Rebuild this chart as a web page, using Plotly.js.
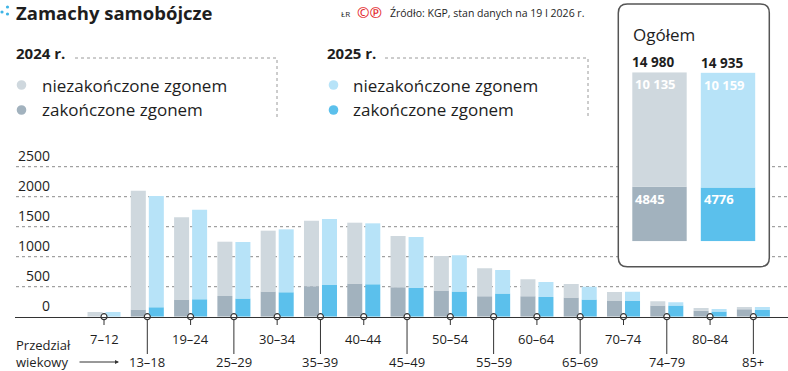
<!DOCTYPE html>
<html>
<head>
<meta charset="utf-8">
<script src="https://cdn.plot.ly/plotly-3.0.1.min.js"></script>
<style>html,body{margin:0;padding:0;background:#fff;}#chart{width:788px;height:371px;}</style>
</head>
<body>
<div id="chart"></div>
<script>
// ---- data ----
const ageGroups = ['7–12','13–18','19–24','25–29','30–34','35–39','40–44','45–49','50–54','55–59','60–64','65–69','70–74','74–79','80–84','85+'];
const fatal2024    = [5, 118, 285, 346, 418, 508, 552, 492, 435, 341, 341, 318, 263, 185, 101, 123];
const nonFatal2024 = [73, 1982, 1371, 904, 1016, 1092, 1015, 853, 577, 465, 282, 227, 148, 71, 44, 38];
const fatal2025    = [4, 157, 290, 302, 407, 529, 541, 479, 418, 385, 329, 285, 263, 185, 85, 113];
const nonFatal2025 = [74, 1854, 1493, 943, 1049, 1099, 1015, 849, 605, 393, 249, 215, 154, 54, 43, 48];
const yTicks = [0, 500, 1000, 1500, 2000, 2500];
const yearLabels = ['2024 r.', '2025 r.'];
const totalFatal = [4845, 4776];
const totalNonFatal = [10135, 10159];
const seriesNames = ['niezakończone zgonem', 'zakończone zgonem'];
const boxTitle = 'Ogółem';

// ---- styling ----
const W = 788, H = 371;
const px = p => p / W;
const py = p => 1 - p / H;
const FONT = 'Open Sans, Noto Sans, DejaVu Sans, sans-serif';
const TXT = '#1e1e1e';
const colLight = ['#cfd8de', '#b7e3f8'];
const colDark  = ['#a2b2be', '#5bc0ec'];
const fmt = n => n >= 10000 ? String(n).replace(/\B(?=(\d{3})+(?!\d))/g, ' ') : String(n);

const barW = 0.347;
const offs = [-0.381, 0.035];
const fatalSets = [fatal2024, fatal2025];
const nonFatalSets = [nonFatal2024, nonFatal2025];

const traces = [];
for (let k = 0; k < 2; k++) {
  traces.push({
    type: 'bar', x: ageGroups, y: fatalSets[k], name: yearLabels[k] + ' ' + seriesNames[1],
    width: barW, offset: offs[k], marker: {color: colDark[k], line: {width: 0}},
    hoverinfo: 'skip', xaxis: 'x', yaxis: 'y'
  });
  traces.push({
    type: 'bar', x: ageGroups, y: nonFatalSets[k], base: fatalSets[k], name: yearLabels[k] + ' ' + seriesNames[0],
    width: barW, offset: offs[k], marker: {color: colLight[k], line: {width: 0}},
    hoverinfo: 'skip', xaxis: 'x', yaxis: 'y'
  });
}
// axis dots
traces.push({
  type: 'scatter', mode: 'markers', x: ageGroups, y: ageGroups.map(() => 0),
  marker: {symbol: 'circle', size: 6, color: '#ffffff', line: {color: '#333', width: 1.2}},
  cliponaxis: false, hoverinfo: 'skip', xaxis: 'x', yaxis: 'y'
});
// totals box bars
const boxW = 0.794;
traces.push({
  type: 'bar', x: yearLabels, y: totalFatal, width: boxW,
  marker: {color: colDark, line: {width: 0}}, hoverinfo: 'skip', xaxis: 'x2', yaxis: 'y2'
});
traces.push({
  type: 'bar', x: yearLabels, y: totalNonFatal, base: totalFatal, width: boxW,
  marker: {color: colLight, line: {width: 0}}, hoverinfo: 'skip', xaxis: 'x2', yaxis: 'y2'
});

const shapes = [];
// dotted gridlines
yTicks.filter(v => v > 0).forEach(v => {
  shapes.push({type: 'line', xref: 'paper', yref: 'y', x0: px(16), x1: 1, y0: v, y1: v,
    line: {color: '#8c8c8c', width: 1, dash: 'dot'}, layer: 'below'});
});
// rounded box
(function () {
  const x0 = px(618.3), x1 = px(769.3), yb = py(266.7), yt = py(4);
  const rx = 9 / W, ry = 9 / H;
  const d = `M ${x0 + rx} ${yt} L ${x1 - rx} ${yt} Q ${x1} ${yt} ${x1} ${yt - ry} L ${x1} ${yb + ry} Q ${x1} ${yb} ${x1 - rx} ${yb} L ${x0 + rx} ${yb} Q ${x0} ${yb} ${x0} ${yb + ry} L ${x0} ${yt - ry} Q ${x0} ${yt} ${x0 + rx} ${yt} Z`;
  shapes.push({type: 'path', xref: 'paper', yref: 'paper', path: d,
    fillcolor: '#ffffff', line: {color: '#555', width: 1.5}, layer: 'below'});
})();
// tick stems below axis
ageGroups.forEach((g, i) => {
  shapes.push({type: 'line', xref: 'x', yref: 'paper', x0: i, x1: i,
    y0: py(317), y1: py(i % 2 === 0 ? 325 : 354), line: {color: '#333', width: 1}, layer: 'below'});
});
// legend headers dotted frames
[[75, 277], [385, 588]].forEach(([a, b]) => {
  shapes.push({type: 'path', xref: 'paper', yref: 'paper',
    path: `M ${px(a)} ${py(58)} L ${px(b)} ${py(58)} L ${px(b)} ${py(118)}`,
    line: {color: '#9a9a9a', width: 1, dash: 'dot'}, layer: 'below'});
});
// legend dots
[[21.5, 0], [333.5, 1]].forEach(([cx, k]) => {
  [[85, colLight[k]], [110, colDark[k]]].forEach(([cy, c]) => {
    shapes.push({type: 'circle', xref: 'paper', yref: 'paper',
      x0: px(cx - 4.8), x1: px(cx + 4.8), y0: py(cy + 4.8), y1: py(cy - 4.8),
      fillcolor: c, line: {width: 0}});
  });
});
// title icon dots
[[2, 12], [7.5, 7], [7.5, 14]].forEach(([cx, cy]) => {
  shapes.push({type: 'circle', xref: 'paper', yref: 'paper',
    x0: px(cx - 1.6), x1: px(cx + 1.6), y0: py(cy + 1.6), y1: py(cy - 1.6),
    fillcolor: '#3fb5e6', line: {width: 0}});
});

const ann = [];
const txt = (text, x, y, size, opts = {}) => Object.assign({
  text, x: px(x), y: py(y), xref: 'paper', yref: 'paper', showarrow: false,
  xanchor: 'left', yanchor: 'middle', font: {family: FONT, size, color: TXT}
}, opts);

ann.push(txt('<b>Zamachy samobójcze</b>', 14, 12, 18.5));
ann.push(txt('ŁR', 339, 13, 8));
ann.push(txt('©℗', 355, 12, 15, {font: {family: FONT, size: 15, color: '#e3262b'}}));
ann.push(txt('Źródło: KGP, stan danych na 19 I 2026 r.', 388, 13, 10.5));

// legends
[[14, 0], [325, 1]].forEach(([x, k]) => {
  ann.push(txt('<b>' + yearLabels[k] + '</b>', x, 53, 15));
  ann.push(txt(seriesNames[0], x + 26, 85, 17));
  ann.push(txt(seriesNames[1], x + 26, 109, 17));
});

// y tick labels
yTicks.forEach(v => {
  ann.push({text: String(v), x: px(52), y: v, xref: 'paper', yref: 'y', showarrow: false,
    xanchor: 'right', yanchor: 'middle', yshift: 11, font: {family: FONT, size: 14, color: TXT}});
});
// x labels
ageGroups.forEach((g, i) => {
  ann.push({text: g, x: i, y: py(i % 2 === 0 ? 339 : 362), xref: 'x', yref: 'paper', showarrow: false,
    xanchor: 'center', yanchor: 'middle', font: {family: FONT, size: 13, color: TXT}});
});
ann.push(txt('Przedział', 14, 345, 13));
ann.push(txt('wiekowy', 14, 362, 13));
ann.push({text: '', x: px(119), y: py(362), xref: 'paper', yref: 'paper', showarrow: true,
  ax: -41, ay: 0, arrowhead: 2, arrowsize: 0.8, arrowwidth: 1, arrowcolor: '#333'});

// box texts
ann.push({text: boxTitle, x: px(631), y: py(21), xref: 'paper', yref: 'paper', showarrow: false,
  xanchor: 'left', yanchor: 'top', font: {family: FONT, size: 17, color: TXT}});
yearLabels.forEach((yl, k) => {
  const tot = totalFatal[k] + totalNonFatal[k];
  ann.push({text: '<b>' + fmt(tot) + '</b>', x: k - boxW / 2, y: tot, xref: 'x2', yref: 'y2',
    showarrow: false, xanchor: 'left', yanchor: 'bottom', yshift: -1, xshift: -2,
    font: {family: FONT, size: 13.5, color: TXT}});
  ann.push({text: '<b>' + fmt(totalNonFatal[k]) + '</b>', x: k - boxW / 2, y: tot, xref: 'x2', yref: 'y2',
    showarrow: false, xanchor: 'left', yanchor: 'top', yshift: -1, xshift: 1,
    font: {family: FONT, size: 13, color: '#ffffff'}});
  ann.push({text: '<b>' + fmt(totalFatal[k]) + '</b>', x: k - boxW / 2, y: totalFatal[k], xref: 'x2', yref: 'y2',
    showarrow: false, xanchor: 'left', yanchor: 'top', yshift: -1, xshift: 1,
    font: {family: FONT, size: 13, color: '#ffffff'}});
});

const layout = {
  width: W, height: H,
  margin: {l: 0, r: 0, t: 0, b: 0, pad: 0},
  paper_bgcolor: '#ffffff', plot_bgcolor: 'rgba(0,0,0,0)',
  showlegend: false, barmode: 'overlay',
  font: {family: FONT, color: TXT},
  xaxis: {type: 'category', domain: [px(15), 1], range: [-2.056, 15.8], fixedrange: true,
    showgrid: false, zeroline: false, showticklabels: false, ticks: '',
    showline: true, linecolor: '#333', linewidth: 1.5},
  yaxis: {domain: [py(316.7), 1], range: [0, 316.7 / 0.06], fixedrange: true,
    showgrid: false, zeroline: false, showticklabels: false, ticks: '', showline: false},
  xaxis2: {type: 'category', anchor: 'y2', domain: [px(618), px(770)], range: [-0.6058, 1.613],
    showgrid: false, zeroline: false, showticklabels: false, ticks: '', showline: false, fixedrange: true},
  yaxis2: {anchor: 'x2', domain: [py(241.3), py(72.3)], range: [0, Math.max(totalFatal[0] + totalNonFatal[0], totalFatal[1] + totalNonFatal[1])],
    showgrid: false, zeroline: false, showticklabels: false, ticks: '', showline: false, fixedrange: true},
  shapes: shapes,
  annotations: ann
};

Plotly.newPlot('chart', traces, layout, {displayModeBar: false, staticPlot: true});
</script>
</body>
</html>
